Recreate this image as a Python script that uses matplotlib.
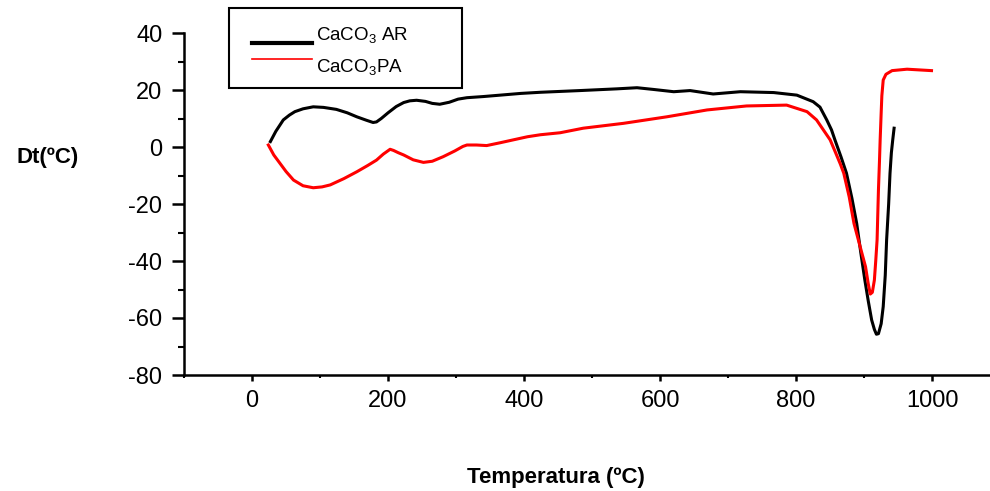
import matplotlib
matplotlib.use("Agg")
from matplotlib import pyplot as plt
from matplotlib.lines import Line2D
from matplotlib.patches import Rectangle
from matplotlib.ticker import MultipleLocator

plt.rcParams['font.family'] = ['Liberation Sans', 'DejaVu Sans']
plt.rcParams['mathtext.fontset'] = 'custom'
plt.rcParams['mathtext.rm'] = 'Liberation Sans'
plt.rcParams['axes.unicode_minus'] = False

## Data ##

# CaCO3 AR (black)
T_ar = [27, 35, 46, 55, 63, 75, 90, 105, 124, 140, 154, 168, 178, 183, 190,
        200, 212, 223, 232, 242, 255, 265, 276, 290, 303, 316, 340, 365, 395,
        424, 482, 536, 566, 590, 620, 644, 678, 718, 767, 801, 825, 835, 845,
        852, 857, 866, 874, 882, 889, 895, 901, 906, 911, 915, 918, 921, 925,
        928, 931, 933, 936, 938, 940, 942, 944]
D_ar = [1.9, 5.5, 9.5, 11.2, 12.4, 13.4, 14.1, 13.9, 13.2, 12.0, 10.6, 9.4,
        8.6, 8.8, 10.0, 12.0, 14.2, 15.6, 16.2, 16.4, 16.0, 15.3, 15.0, 15.7,
        16.8, 17.3, 17.7, 18.2, 18.8, 19.2, 19.8, 20.4, 20.8, 20.2, 19.4, 19.8,
        18.6, 19.4, 19.1, 18.2, 15.9, 14.0, 9.5, 6.0, 2.5, -3.5, -9.2, -18.0,
        -26.8, -37.0, -46.7, -54.0, -60.7, -64.0, -65.7, -65.5, -62.0, -56.0,
        -45.0, -32.6, -20.0, -9.2, -2.0, 2.5, 6.6]

# CaCO3 PA (red)
T_pa = [24, 32, 41, 50, 61, 75, 90, 103, 115, 135, 154, 170, 183, 193, 203,
        208, 215, 223, 237, 252, 265, 281, 298, 310, 316, 330, 345, 365, 384,
        405, 424, 453, 487, 546, 610, 669, 727, 786, 816, 830, 840, 850, 858,
        865, 870, 878, 885, 893, 902, 906, 909, 912, 915, 917, 919, 921, 922.5,
        923.5, 925, 926, 928, 932, 941, 963, 999]
D_pa = [0.7, -2.8, -5.7, -8.6, -11.6, -13.6, -14.3, -14.0, -13.3, -11.1, -8.7,
        -6.5, -4.6, -2.5, -0.8, -1.2, -2.0, -2.8, -4.5, -5.4, -5.0, -3.4, -1.4,
        0.2, 0.7, 0.7, 0.5, 1.5, 2.5, 3.6, 4.3, 5.0, 6.6, 8.3, 10.6, 13.0, 14.4,
        14.7, 12.4, 9.5, 6.0, 2.5, -2.0, -6.0, -9.2, -17.5, -26.8, -34.0, -42.0,
        -48.0, -51.6, -51.0, -46.7, -40.0, -32.6, -15.0, -5.0, 2.5, 12.0, 18.0,
        23.5, 25.5, 26.8, 27.3, 26.8]

W, H = 990, 491
fig = plt.figure(figsize=(W/100, H/100), dpi=100)
ax = fig.add_axes([184/W, 1-375/H, 1-184/W, (375-33)/H])

ax.plot(T_ar, D_ar, color='black', lw=2.2, solid_joinstyle='round')
ax.plot(T_pa, D_pa, color='red', lw=2.2, solid_joinstyle='round')

ax.set_xlim(-100, 1085)
ax.set_ylim(-80, 40)
ax.xaxis.set_major_locator(MultipleLocator(200))
ax.xaxis.set_minor_locator(MultipleLocator(100))
ax.yaxis.set_major_locator(MultipleLocator(20))
ax.yaxis.set_minor_locator(MultipleLocator(10))
ax.spines['top'].set_visible(False)
ax.spines['right'].set_visible(False)
for s in ['left', 'bottom']:
    ax.spines[s].set_linewidth(1.8)
ax.tick_params(axis='y', which='major', direction='out', length=8.5, width=1.8,
               labelsize=17, pad=7)
ax.tick_params(axis='y', which='minor', direction='out', length=4.5, width=1.5)
ax.tick_params(axis='x', which='major', direction='out', length=4, width=1.8,
               labelsize=17, pad=7)
ax.tick_params(axis='x', which='minor', direction='out', length=2.5, width=1.5)

fig.text(48/W, 1-158/H, 'Dt(ºC)', fontsize=16, fontweight='bold',
         ha='center', va='center')
fig.text(556/W, 1-478/H, 'Temperatura (ºC)', fontsize=16, fontweight='bold',
         ha='center', va='center')

# legend box drawn by hand
fig.add_artist(Rectangle((229/W, 1-88/H), (462-229)/W, 80/H, transform=fig.transFigure,
                         facecolor='white', edgecolor='black', lw=1.5))
fig.add_artist(Line2D([252/W, 312/W], [1-43/H, 1-43/H], transform=fig.transFigure,
                      color='black', lw=3))
fig.add_artist(Line2D([252/W, 312/W], [1-59/H, 1-59/H], transform=fig.transFigure,
                      color='red', lw=1.2))
fig.text(316/W, 1-41/H, r'CaCO$_3$ AR', fontsize=13.5, va='baseline')
fig.text(316/W, 1-73/H, r'CaCO$_3$PA', fontsize=13.5, va='baseline')

plt.savefig('out.png', dpi=100)
plt.close()
